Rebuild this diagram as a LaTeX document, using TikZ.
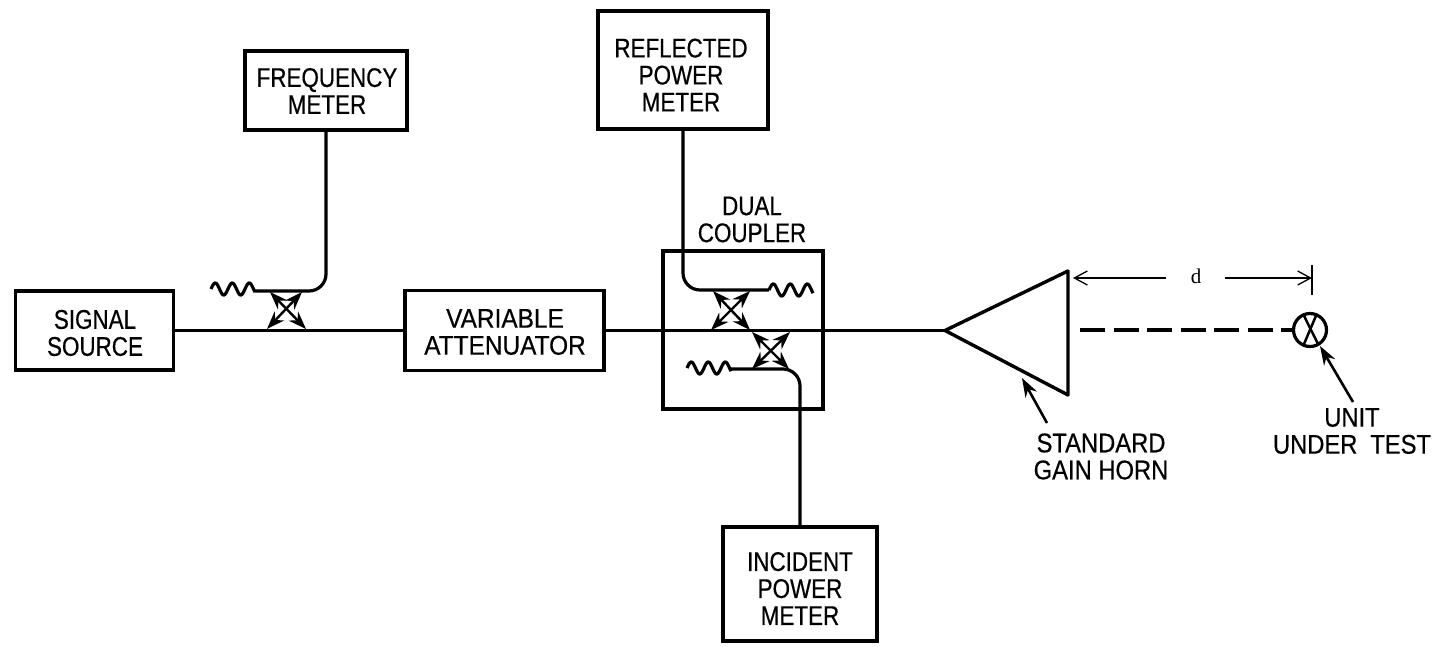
\documentclass[tikz,border=0pt]{standalone}
\usepackage{fontspec}
\setmainfont[FakeStretch=0.83,FakeBold=0.5]{Liberation Sans}
\newfontfamily\dfont{Liberation Serif}
\usetikzlibrary{arrows.meta}
\newcommand{\wiggle}[1]{\draw[line width=3.2pt,shift={(#1)}] plot[smooth,domain=0:44,samples=45] (\x,{-6*sin(\x*360/17)});}
\tikzset{
 block/.style={draw,line width=3.2pt,inner sep=0pt},
 lbl/.style={inner sep=0pt,align=center,font=\fontsize{27}{27}\selectfont},
 wide/.style={xscale=1.09,transform shape},
 wider/.style={xscale=1.06,transform shape},
 wire/.style={line width=3.2pt,rounded corners=17pt},
 trunk/.style={line width=3.2pt},
 diag/.style={line width=2.4pt,{Stealth[length=18pt,width=13pt]}-{Stealth[length=18pt,width=13pt]}},
 point/.style={line width=2.6pt,-{Stealth[length=19pt,width=13pt]}},
 dim/.style={line width=1.3pt,-{Straight Barb[length=13pt,width=14pt]}}
}
\begin{document}
\begin{tikzpicture}[x=1pt,y=-1pt]
\useasboundingbox (0,0) rectangle (1445,646);
\node[block,minimum width=158pt,minimum height=79pt] (src) at (94.5,330.5) {};
\node[lbl] (srct) at (95,333) {SIGNAL\\SOURCE};
\node[block,minimum width=199pt,minimum height=80pt] (att) at (504.5,330.5) {};
\node[lbl,wide] (attt) at (505,332) {VARIABLE\\ATTENUATOR};
\node[block,minimum width=162pt,minimum height=79pt] (freq) at (326,90.5) {};
\node[lbl] (freqt) at (327,91) {FREQUENCY\\METER};
\node[block,minimum width=170pt,minimum height=118pt] (refl) at (683,70) {};
\node[lbl] (reflt) at (681,75) {REFLECTED\\POWER\\METER};
\node[block,minimum width=154pt,minimum height=114pt] (inc) at (800,584) {};
\node[lbl] (inct) at (800,588.5) {INCIDENT\\POWER\\METER};
\node[block,minimum width=160pt,minimum height=158pt] (dual) at (743,330) {};
\node[lbl] (dualt) at (752,219.5) {DUAL\\COUPLER};
\node[lbl,wider] (stdt) at (1101,456.5) {STANDARD\\GAIN HORN};
\node[lbl,wider] (uutt) at (1352,431) {UNIT\\UNDER\hspace{0.45em}TEST};
\node[inner sep=0pt,font=\fontsize{21}{24}\selectfont\dfont] (dt) at (1196,276) {d};

\coordinate (hornA) at (945,330.5);
\coordinate (hornT) at (1068,271);
\coordinate (hornB) at (1068,395);
\draw[line width=3.4pt,line join=round] (hornA) -- (hornT) -- (hornB) -- cycle;

\draw[trunk] (src.east) -- (att.west);
\draw[trunk] (att.east) -- (hornA);

% first coupler
\coordinate (w1a) at (211,289);
\coordinate (w1b) at (255,291);
\wiggle{w1a}
\draw[wire] (w1b) -- (freq.south |- w1b) -- (freq.south);
\draw[diag] (270,292) -- (306,329);
\draw[diag] (302,292) -- (267,329);

% dual coupler, upper arm
\coordinate (w2a) at (769,290);
\coordinate (w2b) at (813,289);
\wiggle{w2a}
\draw[wire] (w2a) -- (refl.south |- w2a) -- (refl.south);
\draw[diag] (713,291) -- (750,330);
\draw[diag] (750,291) -- (711,330);

% dual coupler, lower arm
\coordinate (w3a) at (687,368);
\coordinate (w3b) at (731,369);
\wiggle{w3a}
\draw[wire] (w3b) -- (inc.north |- w3b) -- (inc.north);
\draw[diag] (752,332) -- (789,369);
\draw[diag] (790,332) -- (752,369);

% device under test
\node[draw,circle,line width=3.2pt,minimum size=33pt,inner sep=0pt] (uut) at (1310,330) {};
\draw[line width=2.5pt] (uut.north west) ++(7,-1) -- (1318,344);
\draw[line width=2.5pt] (uut.north east) ++(-7,-1) -- (1304,344);
\coordinate (dashstart) at (1080,330);
\draw[line width=3.4pt,dash pattern=on 25pt off 8.5pt] (dashstart) -- (uut.west);

% pointers
\coordinate (stdtail) at (1047,423);
\coordinate (stdtip) at (1022,378);
\draw[point] (stdtail) -- (stdtip);
\coordinate (uuttail) at (1353,402);
\coordinate (uuttip) at (1320,346);
\draw[point] (uuttail) -- (uuttip);

% dimension
\coordinate (tickT) at (1312,265);
\coordinate (tickB) at (1312,295);
\draw[line width=1.5pt] (tickT) -- (tickB);
\coordinate (dL) at (1166,278);
\coordinate (dR) at (1225,278);
\coordinate (dtipL) at (1073,278);
\coordinate (dtipR) at (1312,278);
\draw[dim] (dL) -- (dtipL);
\draw[dim] (dR) -- (dtipR);
\end{tikzpicture}
\end{document}
